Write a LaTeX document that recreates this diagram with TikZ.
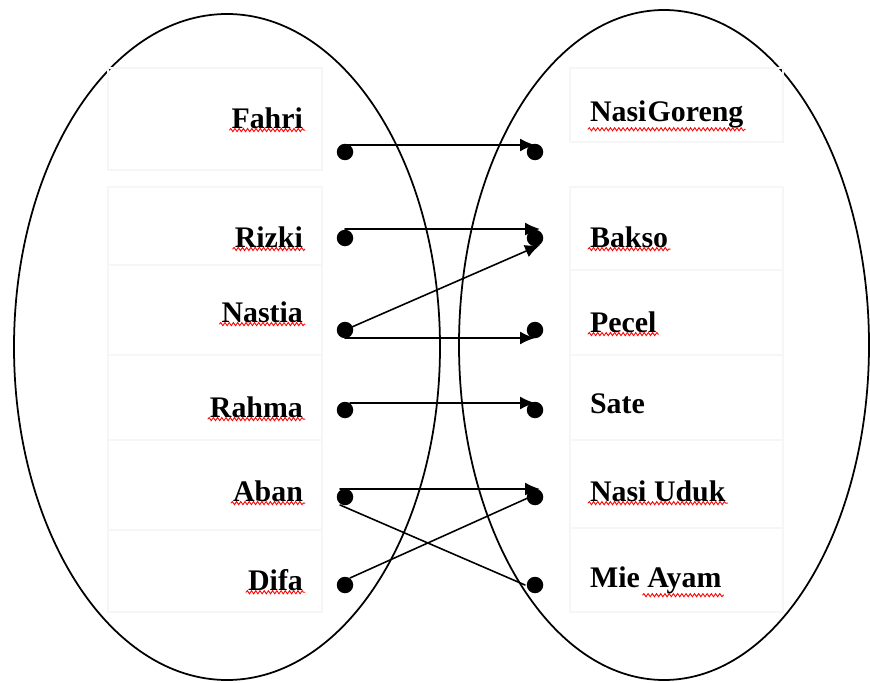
\documentclass[tikz,border=0pt]{standalone}
\usepackage{fontspec}
\setmainfont{Liberation Serif}
\usetikzlibrary{arrows.meta,decorations.pathmorphing,calc}

\begin{document}
\begin{tikzpicture}[>={Latex[length=3mm,width=2.6mm]},line cap=round,
  box/.style={gray!7,line width=0.6pt},
  word/.style={font=\fontsize{17}{20}\selectfont\bfseries,inner sep=1pt},
  dot/.style={circle,fill=black,inner sep=0pt,minimum size=3.3mm},
  spell/.style={red,line width=0.5pt,decorate,decoration={snake,segment length=2.4pt,amplitude=0.9pt}},
  map/.style={->,line width=0.9pt}]
\useasboundingbox (0,0) rectangle (17.4,13.64);
% the two sets
\draw[line width=1pt] (4.54,6.70) ellipse (4.26 and 6.66);
\draw[line width=1pt] (13.28,6.74) ellipse (4.10 and 6.70);
% faint table cells
\draw[box] (2.16,12.28) rectangle (6.44,10.24);
\draw[box] (2.16,9.90) rectangle (6.44,8.34) (2.16,8.34) rectangle (6.44,6.54)
  (2.16,6.54) rectangle (6.44,4.84) (2.16,4.84) rectangle (6.44,3.04)
  (2.16,3.04) rectangle (6.44,1.40);
\draw[box] (11.40,12.28) rectangle (15.66,10.80);
\draw[box] (11.40,9.90) rectangle (15.66,8.24) (11.40,8.24) rectangle (15.66,6.54)
  (11.40,6.54) rectangle (15.66,4.84) (11.40,4.84) rectangle (15.66,3.08)
  (11.40,3.08) rectangle (15.66,1.40);
% names
\node[word,anchor=east] (tfahri) at (6.10,11.28) {Fahri};
\node[word,anchor=east] (trizki) at (6.10,8.90) {Rizki};
\node[word,anchor=east] (tnastia) at (6.10,7.40) {Nastia};
\node[word,anchor=east] (trahma) at (6.10,5.50) {Rahma};
\node[word,anchor=east] (taban) at (6.10,3.82) {Aban};
\node[word,anchor=east] (tdifa) at (6.10,2.04) {Difa};
% foods
\node[word,anchor=west] (tgoreng) at (11.76,11.36) {Nasi\kern0.6pt Goreng};
\node[word,anchor=west] (tbakso) at (11.76,8.90) {Bakso};
\node[word,anchor=west] (tpecel) at (11.76,7.20) {Pecel};
\node[word,anchor=west] (tsate) at (11.76,5.56) {Sate};
\node[word,anchor=west] (tuduk) at (11.76,3.82) {Nasi Uduk};
\node[word,anchor=west] (tayam) at (11.76,2.04) {Mie Ayam};
% spell check lines
\foreach \t in {tfahri,trizki,tnastia,trahma,taban,tdifa,tgoreng,tbakso,tpecel,tuduk}
  \draw[spell] ([yshift=0.3pt]\t.south west) -- ([yshift=0.3pt]\t.south east);
\draw[spell] ($([yshift=0.3pt]tayam.south east)+(-1.62,0)$) -- ([yshift=0.3pt]tayam.south east);
% dots
\node[dot] (fahri) at (6.90,10.60) {};
\node[dot] (rizki) at (6.90,8.88) {};
\node[dot] (nastia) at (6.90,7.04) {};
\node[dot] (rahma) at (6.90,5.44) {};
\node[dot] (aban) at (6.90,3.70) {};
\node[dot] (difa) at (6.90,1.94) {};
\node[dot] (goreng) at (10.70,10.60) {};
\node[dot] (bakso) at (10.70,8.88) {};
\node[dot] (pecel) at (10.70,7.04) {};
\node[dot] (sate) at (10.70,5.44) {};
\node[dot] (uduk) at (10.70,3.70) {};
\node[dot] (ayam) at (10.70,1.94) {};
% the mapping
\draw[map] ([yshift=1.4mm]fahri.center) -- ([yshift=1.4mm]goreng.center);
\draw[map] ([yshift=1.8mm]rizki.center) -- ([xshift=1mm,yshift=1.8mm]bakso.center);
\draw[map] (nastia.center) -- ([xshift=1mm,yshift=-1.4mm]bakso.center);
\draw[map] ([yshift=-1.6mm]nastia.center) -- ([yshift=-1.6mm]pecel.center);
\draw[map] ([xshift=1mm,yshift=1.4mm]rahma.center) -- ([yshift=1.4mm]sate.center);
\draw[map] ([xshift=-1mm,yshift=1.6mm]aban.center) -- ([xshift=1mm,yshift=1.6mm]uduk.center);
\draw[line width=0.9pt] ([xshift=-1mm,yshift=-1.6mm]aban.center) -- ([xshift=-2mm]ayam.center);
\draw[line width=0.9pt] ([xshift=1mm,yshift=1.4mm]difa.center) -- ([xshift=-1mm]uduk.center);
\end{tikzpicture}
\end{document}
